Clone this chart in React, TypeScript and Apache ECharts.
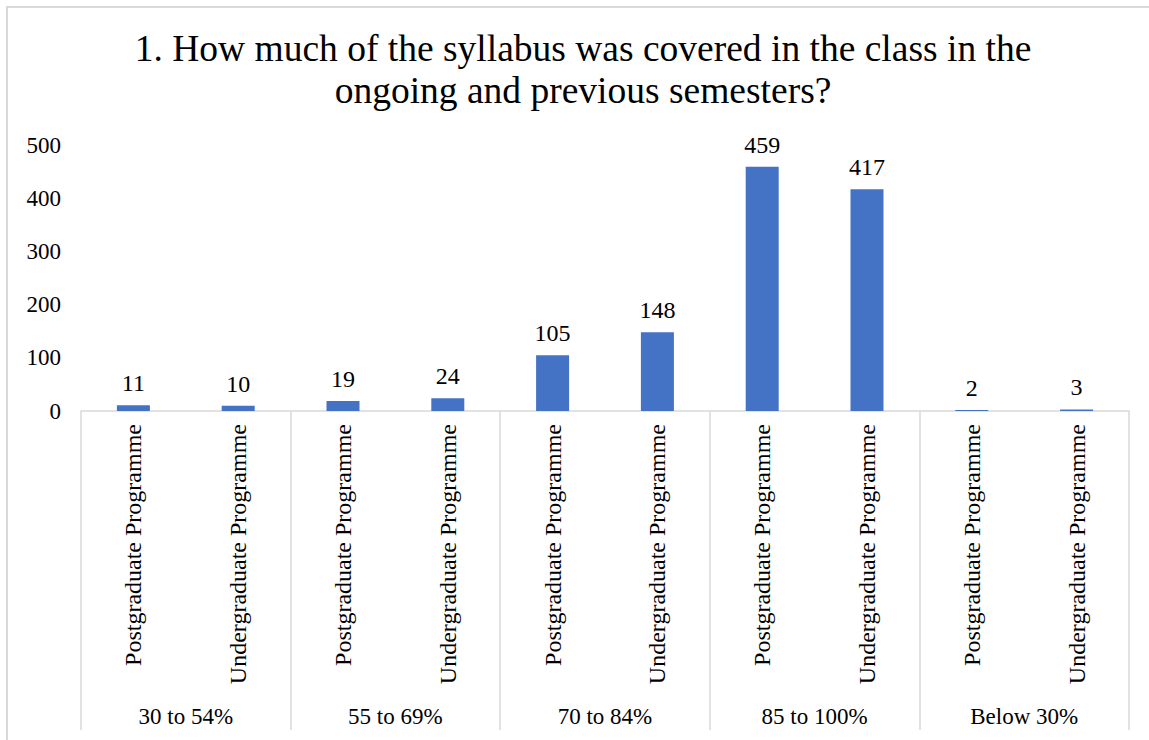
import React, { useEffect, useRef } from "react";
import * as echarts from "echarts";

const TITLE = "1. How much of the syllabus was covered in the class in the\nongoing and previous semesters?";
const groups = ["30 to 54%", "55 to 69%", "70 to 84%", "85 to 100%", "Below 30%"];
const programmes = ["Postgraduate Programme", "Undergraduate Programme"];
const postgraduate = [11, 19, 105, 459, 2];
const undergraduate = [10, 24, 148, 417, 3];
const yTicks = [0, 100, 200, 300, 400, 500];

const FONT = "'Liberation Serif', 'Times New Roman', serif";

export default function App() {
  const ref = useRef<HTMLDivElement>(null);
  useEffect(() => {
    document.body.style.overflow = "hidden";
    const chart = echarts.init(ref.current!, null, { renderer: "svg" });
    const categories: string[] = [];
    const values: number[] = [];
    groups.forEach((g, i) => {
      categories.push(g + "|" + programmes[0]);
      values.push(postgraduate[i]);
      categories.push(g + "|" + programmes[1]);
      values.push(undergraduate[i]);
    });
    chart.setOption({
      animation: false,
      title: {
        text: TITLE,
        left: "center",
        top: 14,
        textStyle: { fontFamily: FONT, fontSize: 37.5, fontWeight: "normal", color: "#000", lineHeight: 42 },
      },
      grid: { left: 73, right: 29, top: 137, bottom: 329, containLabel: false },
      xAxis: [
        {
          type: "category",
          data: categories,
          position: "bottom",
          axisLine: { show: true, lineStyle: { color: "#d9d9d9", width: 1.5 } },
          axisTick: { show: false },
          axisLabel: {
            interval: 0,
            rotate: 90,
            margin: 13,
            fontFamily: FONT,
            fontSize: 24,
            color: "#000",
            formatter: (v: string) => v.split("|")[1],
          },
        },
        {
          type: "category",
          data: groups,
          position: "bottom",
          axisLine: { show: false },
          axisTick: { show: true, length: 319, interval: 0, lineStyle: { color: "#d9d9d9", width: 1.5 } },
          axisLabel: { interval: 0, margin: 294, fontFamily: FONT, fontSize: 23, color: "#000" },
        },
      ],
      yAxis: {
        type: "value",
        min: yTicks[0],
        max: yTicks[yTicks.length - 1],
        interval: yTicks[1] - yTicks[0],
        axisLine: { show: false },
        axisTick: { show: false },
        splitLine: { show: false },
        axisLabel: { margin: 20, fontFamily: FONT, fontSize: 23, color: "#000" },
      },
      series: [
        {
          type: "bar",
          xAxisIndex: 0,
          data: values,
          barWidth: 33,
          itemStyle: { color: "#4472C4" },
          label: {
            show: true,
            position: "top",
            distance: 10,
            fontFamily: FONT,
            fontSize: 24,
            color: "#000",
          },
        },
      ],
    });
    return () => chart.dispose();
  }, []);
  return (
    <div
      style={{
        position: "absolute",
        left: 6,
        top: 6,
        width: 1143,
        height: 734,
        boxSizing: "border-box",
        borderLeft: "2px solid #d9d9d9",
        borderTop: "2px solid #d9d9d9",
        overflow: "hidden",
        background: "#fff",
      }}
    >
      <div ref={ref} style={{ width: 1150, height: 732 }} />
    </div>
  );
}
